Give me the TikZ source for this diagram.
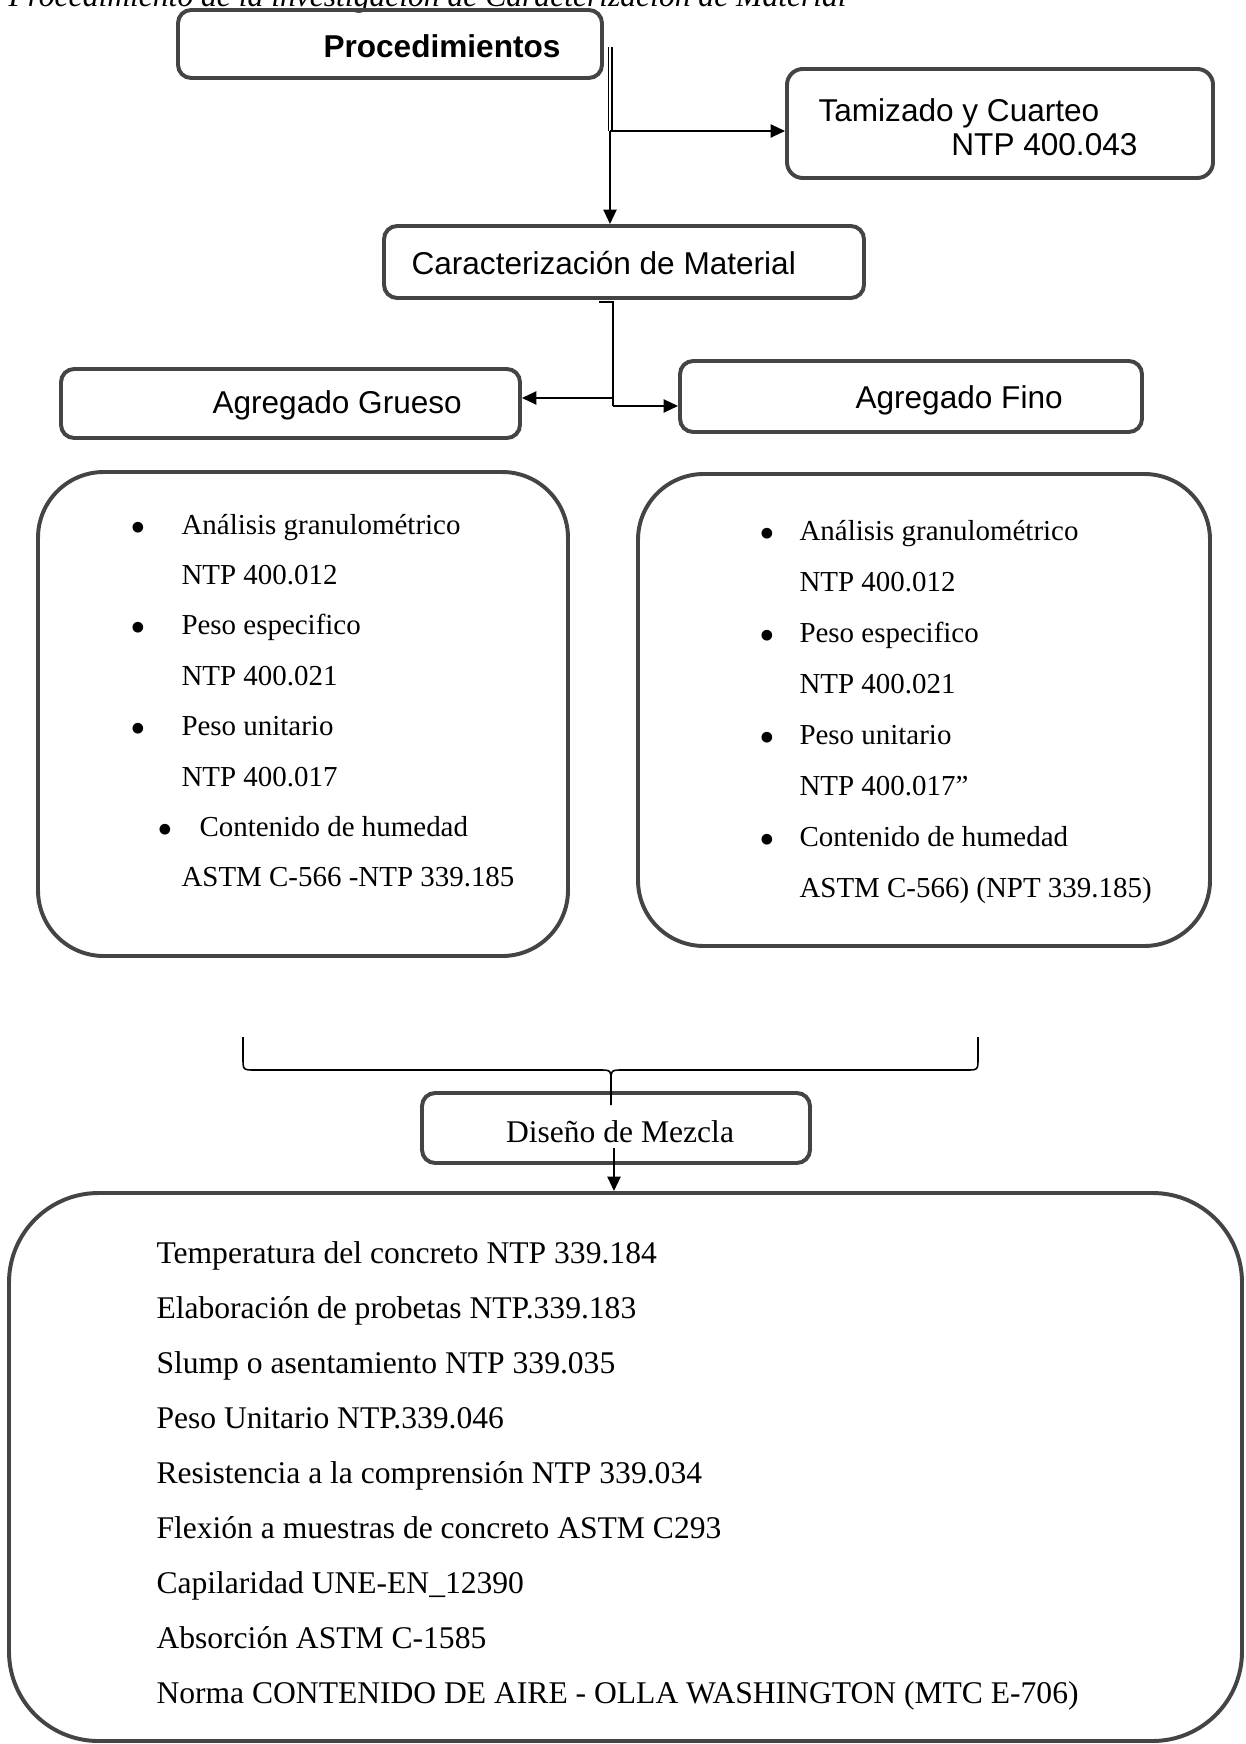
\documentclass[tikz,border=0pt]{standalone}
\usepackage{fontspec}
\setmainfont{Liberation Serif}
\newfontfamily\arialfont{Liberation Sans}
\usetikzlibrary{arrows.meta,fit}
\definecolor{boxgray}{RGB}{68,68,68}

\begin{document}
\begin{tikzpicture}[
  x=0.38pt, y=-0.38pt,
  >={Triangle[length=5.5pt,width=5pt]},
  box/.style={draw=boxgray,line width=1.5pt,rounded corners=5pt,inner sep=0pt},
  listbox/.style={box,rounded corners=25pt},
  sans/.style={font=\arialfont\fontsize{12}{14}\selectfont,inner sep=0pt},
  serif/.style={font=\fontsize{12}{14}\selectfont,inner sep=0pt},
  small/.style={font=\fontsize{11}{13}\selectfont,inner sep=0pt},
  dot/.style={font=\fontsize{17}{17}\selectfont,inner sep=0pt,anchor=base},
  link/.style={line width=0.75pt}
]
  \clip (0,0) rectangle (1245,1744);
  \useasboundingbox (0,0) rectangle (1245,1744);

  % caption, cut at the top edge
  \node[font=\itshape\fontsize{12}{14}\selectfont,inner sep=0pt,anchor=base west] (caption) at (8,7)
    {Procedimiento de la investigación de Caracterización de Material};

  % upper boxes
  \node[box,fit={(178,10) (602,78)}] (proc) {};
  \node[sans,font=\arialfont\bfseries\fontsize{12}{14}\selectfont,anchor=base west] (proctxt) at (323,58) {Procedimientos};
  \node[box,rounded corners=6pt,fit={(787,69) (1213,178)}] (tam) {};
  \node[sans,anchor=base west] (tamtxt) at (818,122) {Tamizado y Cuarteo};
  \node[sans,anchor=base east] (tamntp) at (1138,156) {NTP 400.043};
  \node[box,fit={(384,226) (864,298)}] (car) {};
  \node[sans,anchor=base west] (cartxt) at (411,275) {Caracterización de Material};
  \node[box,fit={(61,369) (520,438)}] (gru) {};
  \node[sans,anchor=base west] (grutxt) at (212,414) {Agregado Grueso};
  \node[box,fit={(680,361) (1142,432)}] (fin) {};
  \node[sans,anchor=base west] (fintxt) at (855,409) {Agregado Fino};

  % test lists
  \node[listbox,fit={(38,472) (568,956)}] (grulist) {};
  \foreach \t [count=\i from 0] in {Análisis granulométrico,NTP 400.012,Peso especifico,NTP 400.021,Peso unitario,NTP 400.017}
    \node[small,anchor=base west] (gl\i) at (181,{534+50.4*\i}) {\t};
  \foreach \i in {0,2,4}
    \node[dot] (gb\i) at (138,{542+50.4*\i}) {\textbullet};
  \node[dot] (gb6) at (165,{542+50.4*6}) {\textbullet};
  \node[small,anchor=base west] (gl6) at (199,{534+50.4*6}) {Contenido de humedad};
  \node[small,anchor=base west] (gl7) at (181,{534+50.4*7}) {ASTM C-566 -NTP 339.185};

  \node[listbox,fit={(638,474) (1210,946)}] (finlist) {};
  \foreach \t [count=\i from 0] in {Análisis granulométrico,NTP 400.012,Peso especifico,NTP 400.021,Peso unitario,NTP 400.017”,Contenido de humedad,ASTM C-566) (NPT 339.185)}
    \node[small,anchor=base west] (fl\i) at (799,{540+51*\i}) {\t};
  \foreach \i in {0,2,4,6}
    \node[dot] (fb\i) at (767,{548+51*\i}) {\textbullet};

  % mix design
  \node[box,fit={(422,1093) (810,1163)}] (dis) {};
  \node[serif,anchor=base] (distxt) at (620,1142) {Diseño de Mezcla};
  \node[box,rounded corners=34pt,fit={(9,1193) (1242,1741)}] (mez) {};
  \foreach \t [count=\i from 0] in {Temperatura del concreto NTP 339.184,Elaboración de probetas NTP.339.183,Slump o asentamiento NTP 339.035,Peso Unitario NTP.339.046,Resistencia a la comprensión NTP 339.034,Flexión a muestras de concreto ASTM C293,Capilaridad UNE-EN\_12390,Absorción ASTM C-1585,Norma CONTENIDO DE AIRE - OLLA WASHINGTON (MTC E-706)}
    \node[serif,anchor=base west] (ml\i) at (156,{1263+55*\i}) {\t};

  % connectors
  \coordinate (dtop) at (610,47);
  \coordinate (dsplit) at (610,131);
  \draw[double,double distance=1pt,line width=0.45pt] (dtop) -- (dsplit);
  \draw[link,->] (dsplit) -- (dsplit -| tam.west);
  \draw[link,->] (dsplit) -- (dsplit |- car.north);

  \coordinate (ftick) at (599,302);
  \coordinate (ftop) at (613,302);
  \coordinate (fleft) at (613,398);
  \coordinate (fbot) at (613,406);
  \draw[link] (ftick) -- (ftop) -- (fbot);
  \draw[link,->] (fleft) -- (fleft -| gru.east);
  \draw[link,->] (fbot) -- (fbot -| fin.west);

  % brace over both lists
  \coordinate (brl) at (243,1037);
  \coordinate (brr) at (978,1037);
  \coordinate (brtip) at (611,1105);
  \draw[line width=0.6pt] (brl) -- (243,1058) .. controls (243,1070) .. (255,1070) -- (599,1070)
    .. controls (611,1070) .. (611,1082) -- (brtip);
  \draw[line width=0.6pt] (611,1082) .. controls (611,1070) .. (623,1070) -- (966,1070)
    .. controls (978,1070) .. (978,1058) -- (brr);

  \coordinate (disout) at (614,1148);
  \draw[link,->] (disout) -- (disout |- mez.north);
\end{tikzpicture}
\end{document}
